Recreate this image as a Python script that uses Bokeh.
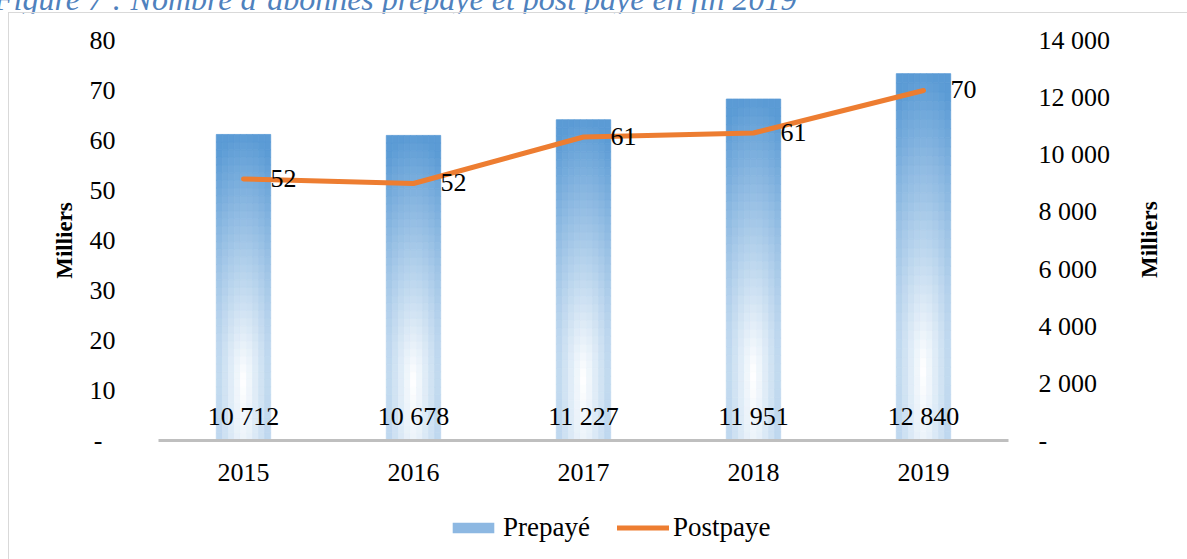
import math
from bokeh.plotting import figure
from bokeh.models import (Range1d, LinearAxis, FixedTicker, CustomJSTickFormatter,
                          Legend, LegendItem, ColumnDataSource, Div)
from bokeh.layouts import column
from bokeh.core.properties import value
from bokeh.embed import file_html
from bokeh.resources import INLINE

# ---- data ----
years = ["2015", "2016", "2017", "2018", "2019"]
prepaye = [10712, 10678, 11227, 11951, 12840]          # right axis (Milliers)
postpaye = [52.3, 51.4, 60.7, 61.5, 70.0]              # left axis (Milliers)
postpaye_labels = ["52", "52", "61", "61", "70"]
left_ticks = [0, 10, 20, 30, 40, 50, 60, 70, 80]
right_ticks = [0, 2000, 4000, 6000, 8000, 10000, 12000, 14000]
series_names = ["Prepayé", "Postpaye"]
axis_title = "Milliers"
title_text = "Figure 7 : Nombre d\u2019abonnés prepayé et post payé en fin 2019"

FONT = "Liberation Serif"
FS = "26px"
DARK = (91, 155, 213)
WHITE = (255, 255, 255)
ORANGE = "#ED7D31"

p = figure(frame_width=850, frame_height=400,
           x_range=Range1d(0, len(years)), y_range=Range1d(0, 80),
           output_backend="svg", toolbar_location=None,
           min_border_left=149, min_border_right=179, min_border_top=27, min_border_bottom=52)
p.extra_y_ranges = {"right": Range1d(0, 14000)}
p.grid.visible = False
p.outline_line_color = None
p.background_fill_color = "white"
p.border_fill_color = "white"

xc = [i + 0.5 for i in range(len(years))]

# ---- gradient bars (Prepayé), built as cells from the data values ----
def mix(t):
    t = max(0.0, min(1.0, t))
    r = [round(WHITE[k] + (DARK[k] - WHITE[k]) * t) for k in range(3)]
    return "#%02x%02x%02x" % tuple(r)

bw = 0.32
nx, ny = 9, 40
L, R, B, T, C = [], [], [], [], []
for x0, v in zip(xc, prepaye):
    for j in range(nx):
        u = ((j + 0.5) / nx) * 2 - 1
        for k in range(ny):
            f = (k + 0.5) / ny
            fv = (f - 0.2) / 0.8 if f >= 0.2 else (0.2 - f) / 0.2 * 0.12
            t = ((0.42 * u) ** 2 + fv ** 2) ** 0.5
            L.append(x0 - bw / 2 + j * bw / nx)
            R.append(x0 - bw / 2 + (j + 1) * bw / nx)
            B.append(v * k / ny)
            T.append(v * (k + 1) / ny)
            C.append(mix(t))
cells = ColumnDataSource(dict(left=L, right=R, bottom=B, top=T, color=C))
p.quad(left="left", right="right", bottom="bottom", top="top", fill_color="color",
       line_color="color", line_width=0.8, source=cells, y_range_name="right")

# bar labels
p.text(x=xc, y=[0] * len(years),
       text=[f"{v:,}".replace(",", " ") for v in prepaye],
       y_range_name="right", y_offset=-24, text_align="center", text_baseline="alphabetic",
       text_font=value(FONT), text_font_size=FS, text_color="black")

# ---- line (Postpaye) ----
p.line(x=xc, y=postpaye, line_color=ORANGE, line_width=5,
       line_cap="round", line_join="round")
p.text(x=xc, y=postpaye, text=postpaye_labels, x_offset=27, y_offset=-1,
       text_align="left", text_baseline="middle",
       text_font=value(FONT), text_font_size=FS, text_color="black")

# ---- axes ----
xa = p.xaxis[0]
xa.ticker = FixedTicker(ticks=xc)
xa.formatter = CustomJSTickFormatter(args=dict(years=years),
                                     code="return years[Math.floor(tick)];")
xa.axis_line_color = "#BFBFBF"
xa.axis_line_width = 3
xa.major_tick_line_color = None
xa.minor_tick_line_color = None
xa.major_tick_out = 0
xa.major_tick_in = 0
xa.major_label_standoff = 23
xa.major_label_text_font = FONT
xa.major_label_text_font_size = FS
xa.major_label_text_color = "black"

ya = p.yaxis[0]
ya.ticker = FixedTicker(ticks=left_ticks)
ya.formatter = CustomJSTickFormatter(code="return tick == 0 ? '-\u00a0\u00a0' : tick.toString();")
ya.axis_line_color = None
ya.major_tick_line_color = None
ya.minor_tick_line_color = None
ya.major_tick_out = 0
ya.major_tick_in = 0
ya.major_label_standoff = 43
ya.major_label_text_font = FONT
ya.major_label_text_font_size = FS
ya.major_label_text_color = "black"
ya.axis_label = axis_title
ya.axis_label_text_font = FONT
ya.axis_label_text_font_size = "23px"
ya.axis_label_text_font_style = "bold"
ya.axis_label_text_color = "black"
ya.axis_label_standoff = 10

ra = LinearAxis(y_range_name="right")
ra.ticker = FixedTicker(ticks=right_ticks)
ra.formatter = CustomJSTickFormatter(
    code="return tick == 0 ? '-' : String(tick).replace(/\\B(?=(\\d{3})+(?!\\d))/g, ' ');")
ra.axis_line_color = None
ra.major_tick_line_color = None
ra.minor_tick_line_color = None
ra.major_tick_out = 0
ra.major_tick_in = 0
ra.major_label_standoff = 30
ra.major_label_text_font = FONT
ra.major_label_text_font_size = FS
ra.major_label_text_color = "black"
ra.axis_label = axis_title
ra.axis_label_text_font = FONT
ra.axis_label_text_font_size = "23px"
ra.axis_label_text_font_style = "bold"
ra.axis_label_text_color = "black"
ra.axis_label_standoff = 36
ra.axis_label_orientation = math.pi / 2
p.add_layout(ra, "right")

# ---- legend in its own strip below the chart ----
lg = figure(width=1178, height=67, x_range=Range1d(0, 1), y_range=Range1d(0, 1),
            output_backend="svg", toolbar_location=None, min_border=0,
            x_axis_location=None, y_axis_location=None)
lg.grid.visible = False
lg.outline_line_color = None
lg.border_fill_color = "white"
# proxies (kept outside the visible range) that only supply the legend swatches
bar_proxy = lg.quad(left=[5], right=[6], bottom=[5], top=[6],
                    fill_color="#8DB8E2", line_color=None)
line_proxy = lg.line(x=[5, 6], y=[5, 5], line_color=ORANGE, line_width=5, line_cap="round")
legend = Legend(items=[LegendItem(label=series_names[0], renderers=[bar_proxy]),
                       LegendItem(label=series_names[1], renderers=[line_proxy])],
                orientation="horizontal", location=(289, 16),
                glyph_width=52, glyph_height=13, label_standoff=4, spacing=27,
                label_text_font=FONT, label_text_font_size="27px", label_text_color="black",
                border_line_color=None, background_fill_alpha=0, padding=2, margin=0)
lg.add_layout(legend)

# ---- cropped title above the chart box ----
title = Div(text=title_text, width=1187, height=18,
            styles={"margin-top": "-11px", "font-family": FONT, "font-style": "italic",
                    "font-size": "32px", "line-height": "20px", "color": "#4F81BD",
                    "white-space": "nowrap", "overflow": "visible", "margin-left": "-6px"})

inner = column(p, lg, spacing=0,
               styles={"border-top": "1px solid #D9D9D9", "border-left": "1px solid #D9D9D9",
                       "margin-left": "8px"})

# right-hand axis title, centred on the plot height and reading bottom-to-top
right_title = Div(text=axis_title, width=40, height=162,
                  styles={"margin-top": "-400px", "margin-left": "1130px",
                          "position": "relative", "z-index": "10",
                          "background-color": "white",
                          "writing-mode": "vertical-rl", "transform": "rotate(180deg)",
                          "text-align": "center", "font-family": FONT,
                          "font-weight": "bold", "font-size": "23px",
                          "line-height": "40px", "color": "black"})

layout = column(title, inner, right_title, spacing=0)
open("out.html", "w").write(file_html(layout, INLINE))
